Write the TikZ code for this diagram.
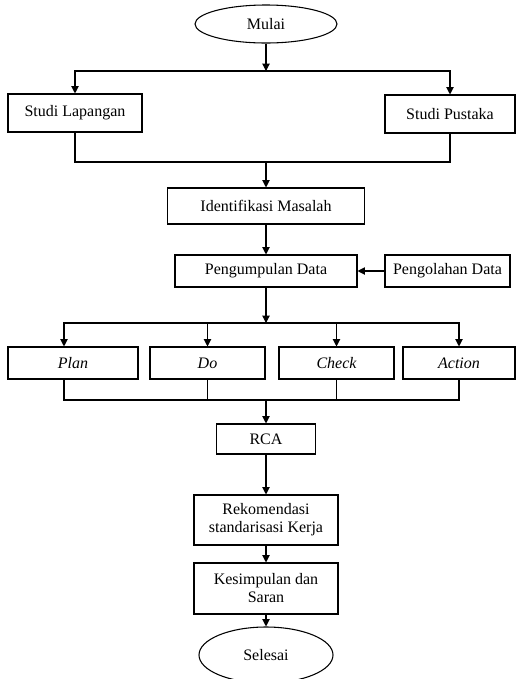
\documentclass[tikz,border=0pt]{standalone}
\usepackage{fontspec}
\setmainfont{Liberation Serif}
\usetikzlibrary{shapes.geometric,arrows.meta}

\begin{document}
\begin{tikzpicture}[
    x=0.75pt, y=-0.75pt,
    font=\fontsize{12pt}{13.5pt}\selectfont,
    box/.style={
        rectangle,
        draw,
        line width=0.8pt,
        inner sep=2pt,
        minimum height=24pt,
        align=center
    },
    term/.style={
        ellipse,
        draw,
        line width=0.8pt,
        inner sep=0pt
    },
    arrow/.style={-{Triangle[length=5.5pt,width=5.5pt]}, line width=0.8pt},
    line/.style={line width=0.8pt}
]
\useasboundingbox (0,0) rectangle (517,679);

\node[term, minimum width=106.5pt, minimum height=28.5pt] (A) at (266,24) {Mulai};

\node[box, minimum width=100.5pt, minimum height=28.5pt] (B) at (75,113) {Studi Lapangan};
\node[box, minimum width=97.5pt, minimum height=28.5pt] (C) at (450,114) {Studi Pustaka};

\node[box, minimum width=147.75pt, minimum height=27pt] (D) at (266,206) {Identifikasi Masalah};

\node[box, minimum width=136.5pt] (E) at (266,271) {Pengumpulan Data};
\node[box, minimum width=93.75pt] (F) at (447.5,271) {Pengolahan Data};

\node[box, minimum width=97.5pt] (G) at (73,363) {\itshape Plan};
\node[box, minimum width=86.25pt] (H) at (207.5,363) {\itshape Do};
\node[box, minimum width=86.25pt] (I) at (336.5,363) {\itshape Check};
\node[box, minimum width=84pt] (J) at (459,363) {\itshape Action};

\node[box, minimum width=74.25pt, minimum height=22.5pt] (K) at (266,439) {RCA};

\node[box, minimum width=108pt, minimum height=37.5pt] (L) at (266,520)
{Rekomendasi\\standarisasi Kerja};

\node[box, minimum width=108pt, minimum height=38.25pt] (M) at (266,588.5)
{Kesimpulan dan\\Saran};

\node[term, minimum width=100.5pt, minimum height=42pt] (N) at (266,655) {Selesai};

% titik cabang
\coordinate (j1) at (266,71);
\coordinate (j2) at (266,162);
\coordinate (j3) at (266,323);
\coordinate (j4) at (266,400);

\draw[arrow] (A) -- (j1);
\draw[arrow] (j1) -| (B);
\draw[arrow] (j1) -| (C);
\draw[line] (B) |- (j2);
\draw[line] (C) |- (j2);
\draw[arrow] (j2) -- (D);

\draw[arrow] (D) -- (E);
\draw[arrow] (F) -- (E);
\draw[arrow] (E) -- (j3);

\draw[arrow] (j3) -| ([xshift=-6.75pt]G.north);
\draw[arrow] (j3) -| (H);
\draw[arrow] (j3) -| (I);
\draw[arrow] (j3) -| (J);
\draw[line] ([xshift=-6.75pt]G.south) |- (j4);
\draw[line] (H) |- (j4);
\draw[line] (I) |- (j4);
\draw[line] (J) |- (j4);
\draw[arrow] (j4) -- (K);

\draw[arrow] (K) -- (L);
\draw[arrow] (L) -- (M);
\draw[arrow] (M) -- (N);

\end{tikzpicture}
\end{document}
